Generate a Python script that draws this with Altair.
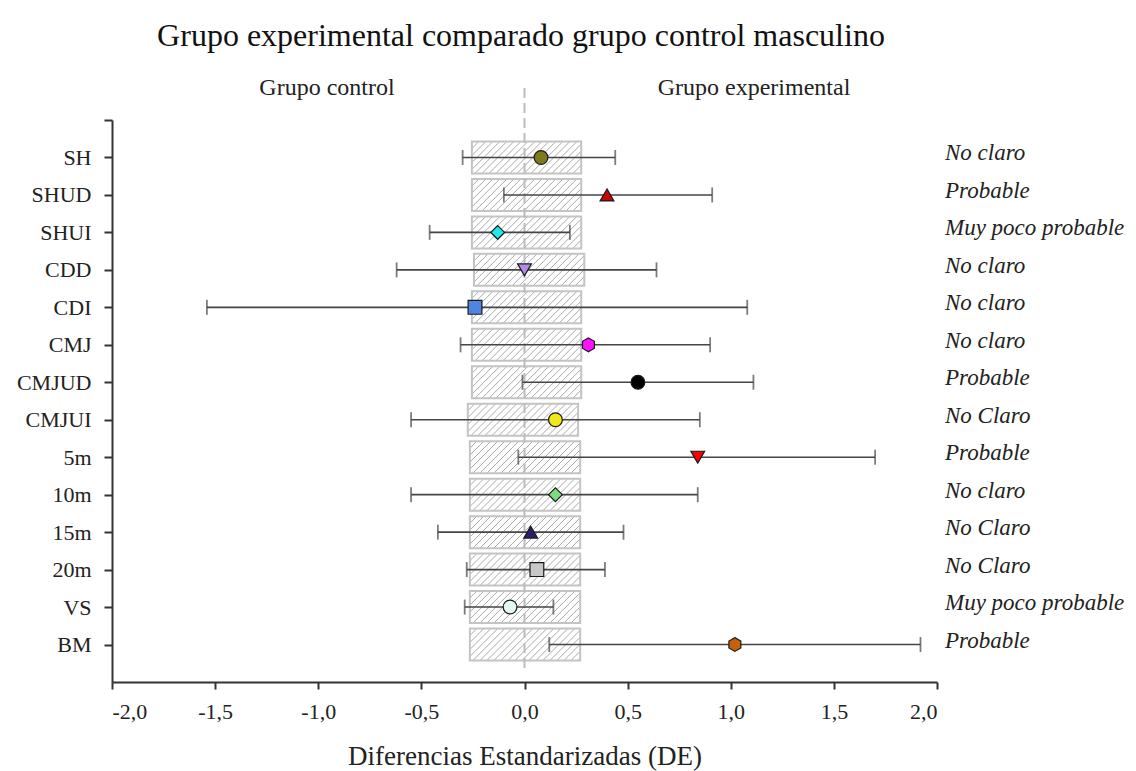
import json
import altair as alt
import pandas as pd

# ---------------- data ----------------
cats = ["SH", "SHUD", "SHUI", "CDD", "CDI", "CMJ", "CMJUD", "CMJUI",
        "5m", "10m", "15m", "20m", "VS", "BM"]
est = [0.08, 0.40, -0.13, 0.00, -0.24, 0.31, 0.55, 0.15, 0.84, 0.15, 0.03, 0.06, -0.07, 1.02]
lo = [-0.30, -0.10, -0.46, -0.62, -1.54, -0.31, -0.01, -0.55, -0.03, -0.55, -0.42, -0.28, -0.29, 0.12]
hi = [0.44, 0.91, 0.22, 0.64, 1.08, 0.90, 1.11, 0.85, 1.70, 0.84, 0.48, 0.39, 0.14, 1.92]
box_lo = [-0.255, -0.255, -0.255, -0.245, -0.255, -0.255, -0.255, -0.275,
          -0.265, -0.265, -0.265, -0.265, -0.265, -0.265]
box_hi = [0.275, 0.275, 0.275, 0.29, 0.275, 0.275, 0.275, 0.26,
          0.27, 0.27, 0.27, 0.27, 0.27, 0.27]
verdict = ["No claro", "Probable", "Muy poco probable", "No claro", "No claro", "No claro",
           "Probable", "No Claro", "Probable", "No claro", "No Claro", "No Claro",
           "Muy poco probable", "Probable"]
fills = ["#7d7a1e", "#cc0000", "#22e8ec", "#b58ae6", "#4f84e0", "#ff10ff", "#000000",
         "#f0e81a", "#ff0000", "#7ddc82", "#2a1f6e", "#c8c8c8", "#e4f8f2", "#c8600a"]
HEX = "M0,-1L0.866,-0.5L0.866,0.5L0,1L-0.866,0.5L-0.866,-0.5Z"
shapes = ["circle", "triangle-up", "diamond", "triangle-down", "square", HEX, "circle",
          "circle", "triangle-down", "diamond", "triangle-up", "square", "circle", HEX]

title_text = "Grupo experimental comparado grupo control masculino"
left_label = "Grupo control"
right_label = "Grupo experimental"
x_title = "Diferencias Estandarizadas (DE)"
x_ticks = [-2.0, -1.5, -1.0, -0.5, 0.0, 0.5, 1.0, 1.5, 2.0]

# ---------------- layout ----------------
W, H = 825, 562
PX_X = W / 4.0
PX_Y = H / 15.0
BOX_PX = 32
half = (BOX_PX / 2) / PX_Y
FONT = "Liberation Serif"

df = pd.DataFrame({
    "cat": cats, "pos": list(range(1, len(cats) + 1)), "est": est, "lo": lo, "hi": hi,
    "blo": box_lo, "bhi": box_hi, "verdict": verdict,
})
df["ytop"] = df["pos"] - half
df["ybot"] = df["pos"] + half

# hatch segments ("/" at 45 deg in pixels) clipped to each box
rows = []
step = 7
for p, b0, b1 in zip(df["pos"], box_lo, box_hi):
    wpx = (b1 - b0) * PX_X
    c = -BOX_PX
    while c < wpx:
        v0 = max(0.0, -c)
        v1 = min(float(BOX_PX), wpx - c)
        if v1 > v0:
            rows.append({
                "x": b0 + (c + v0) / PX_X, "y": p + half - v0 / PX_Y,
                "x2": b0 + (c + v1) / PX_X, "y2": p + half - v1 / PX_Y,
            })
        c += step
hatch = pd.DataFrame(rows)

xs = alt.Scale(domain=[-2, 2], nice=False, zero=False)
ys = alt.Scale(domain=[0, 15], nice=False, zero=False, reverse=True)

cats_js = json.dumps(cats)
x_axis = alt.Axis(
    values=x_ticks,
    labelExpr="replace(replace(format(datum.value, '.1f'), '.', ','), '\u2212', '-')",
    grid=False, tickSize=7, tickWidth=2, tickColor="#333", domainColor="#333", domainWidth=2,
    labelFont=FONT, labelFontSize=22, labelColor="#222", labelPadding=12,
    title=x_title, titleFont=FONT, titleFontSize=27, titleFontWeight="normal",
    titleColor="#222", titlePadding=21,
)
y_axis = alt.Axis(
    values=list(range(0, 15)),
    labelExpr=f"datum.value >= 1 ? {cats_js}[datum.value - 1] : ''",
    grid=False, tickSize=8, tickWidth=2, tickColor="#333", domainColor="#333", domainWidth=2,
    labelFont=FONT, labelFontSize=22, labelColor="#222", labelPadding=13, title=None,
)

base = alt.Chart(df)

hatch_layer = alt.Chart(hatch).mark_rule(color="#a9a9a9", strokeWidth=1).encode(
    x=alt.X("x:Q", scale=xs, axis=x_axis), y=alt.Y("y:Q", scale=ys, axis=y_axis),
    x2="x2:Q", y2="y2:Q",
)
boxes = base.mark_rect(fillOpacity=0, stroke="#c4c4c4", strokeWidth=2).encode(
    x=alt.X("blo:Q", scale=xs), x2="bhi:Q", y=alt.Y("ytop:Q", scale=ys), y2="ybot:Q",
)
zero = base.transform_filter("datum.pos == 1").mark_rule(
    color="#bcbcbc", strokeWidth=2, strokeDash=[10, 5]
).encode(x=alt.datum(0, scale=xs), y=alt.value(-32), y2=alt.value(550))

bars = base.mark_rule(color="#454545", strokeWidth=1.6).encode(
    x=alt.X("lo:Q", scale=xs), x2="hi:Q", y=alt.Y("pos:Q", scale=ys),
)
caps = base.transform_fold(["lo", "hi"], as_=["end", "val"]).mark_tick(
    orient="vertical", size=15, thickness=1.8, color="#454545"
).encode(x=alt.X("val:Q", scale=xs), y=alt.Y("pos:Q", scale=ys))

points = base.mark_point(filled=True, size=190, stroke="#1a1a1a", strokeWidth=1.2, opacity=1).encode(
    x=alt.X("est:Q", scale=xs), y=alt.Y("pos:Q", scale=ys),
    shape=alt.Shape("cat:N", scale=alt.Scale(domain=cats, range=shapes), legend=None),
    fill=alt.Fill("cat:N", scale=alt.Scale(domain=cats, range=fills), legend=None),
)

verdicts = base.mark_text(
    font=FONT, fontSize=23, fontStyle="italic", align="left", baseline="middle", dy=-4, color="#222"
).encode(x=alt.value(833), y=alt.Y("pos:Q", scale=ys), text="verdict:N")

one = base.transform_filter("datum.pos == 1")
title_mark = one.mark_text(font=FONT, fontSize=32, align="center", baseline="alphabetic", color="#111").encode(
    x=alt.value(409), y=alt.value(-74), text=alt.value(title_text))
gl = one.mark_text(font=FONT, fontSize=24, align="center", baseline="alphabetic", color="#222").encode(
    x=alt.value(215), y=alt.value(-25), text=alt.value(left_label))
gr = one.mark_text(font=FONT, fontSize=24, align="center", baseline="alphabetic", color="#222").encode(
    x=alt.value(642), y=alt.value(-25), text=alt.value(right_label))

chart = alt.layer(
    hatch_layer, boxes, zero, bars, caps, points, verdicts, title_mark, gl, gr
).properties(
    width=W, height=H, autosize="none",
    padding={"left": 104, "top": 112, "right": 191, "bottom": 92},
).configure_view(stroke=None)

chart.save("out.html", embed_options={"renderer": "svg", "actions": False})
